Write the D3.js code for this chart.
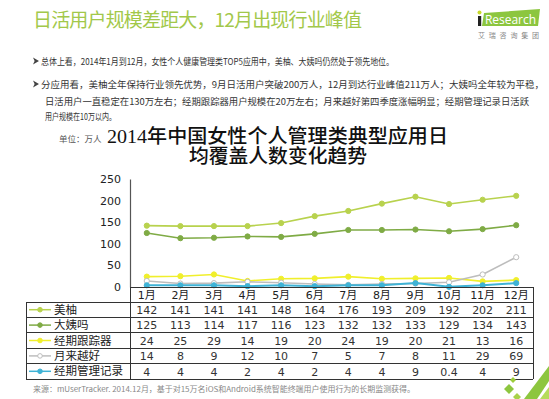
<!DOCTYPE html>
<html>
<head>
<meta charset="utf-8">
<script src="https://cdn.jsdelivr.net/npm/d3@7"></script>
<style>
  body { margin: 0; background: #fff; }
  svg { display: block; }
</style>
</head>
<body>
<div id="chart"></div>
<script>
// chart data
const months = ["1月", "2月", "3月", "4月", "5月", "6月", "7月", "8月", "9月", "10月", "11月", "12月"];
const seriesNames = ["美柚", "大姨吗", "经期跟踪器", "月来越好", "经期管理记录"];
const meiyou = [142, 141, 141, 141, 148, 164, 176, 193, 209, 192, 202, 211];
const dayima = [125, 113, 114, 117, 116, 123, 132, 132, 133, 129, 134, 143];
const tracker = [24, 25, 29, 14, 19, 20, 24, 19, 20, 21, 13, 16];
const yuelai = [14, 8, 9, 12, 10, 7, 5, 7, 8, 11, 29, 69];
const record = [4, 4, 4, 2, 4, 2, 4, 4, 9, 0.4, 4, 9];
const yTicks = [0, 50, 100, 150, 200, 250];

const width = 549, height = 399;
const colors = ["#b8d24e", "#7fab45", "#f0ef2c", "#bdbdbd", "#3fb3d6"];
const allValues = [meiyou, dayima, tracker, yuelai, record];

const numFont = "'DejaVu Sans', Verdana, sans-serif";
const cjkFont = "'Noto Sans CJK SC', sans-serif";

const svg = d3.select("#chart")
  .append("svg")
  .attr("width", width)
  .attr("height", height);

// ---- slide header ----
svg.append("text")
  .attr("x", 33).attr("y", 27)
  .attr("font-family", cjkFont)
  .attr("font-size", 19)
  .attr("fill", "#a2c84a")
  .attr("textLength", 329)
  .text("日活用户规模差距大，12月出现行业峰值");

// iResearch logo
const logo = svg.append("g");
logo.append("circle").attr("cx", 479.5).attr("cy", 12.5).attr("r", 2).attr("fill", "#c8d92a");
logo.append("rect").attr("x", 478).attr("y", 16).attr("width", 3.2).attr("height", 10).attr("fill", "#222");
logo.append("polygon")
  .attr("points", "484,13 540,9 538,26 482,26")
  .attr("fill", "#8cc63f");
logo.append("text")
  .attr("x", 485).attr("y", 24)
  .attr("font-family", "'Open Sans', sans-serif")
  .attr("font-size", 12)
  .attr("fill", "#fff")
  .attr("textLength", 51)
  .text("Research");
logo.append("text")
  .attr("x", 478).attr("y", 38)
  .attr("font-family", cjkFont)
  .attr("font-size", 7)
  .attr("fill", "#888")
  .attr("textLength", 61)
  .text("艾瑞咨询集团");

// bullet text
const bullets = [
  { t: "总体上看，2014年1月到12月，女性个人健康管理类TOP5应用中，美柚、大姨吗仍然处于领先地位。", x: 41, y: 64.5, w: 353, arrow: true },
  { t: "分应用看，美柚全年保持行业领先优势，9月日活用户突破200万人，12月到达行业峰值211万人；大姨吗全年较为平稳，", x: 41, y: 87.5, w: 503, arrow: true },
  { t: "日活用户一直稳定在130万左右；经期跟踪器用户规模在20万左右；月来越好第四季度涨幅明显；经期管理记录日活跃", x: 45, y: 104.5, w: 484, arrow: false },
  { t: "用户规模在10万以内。", x: 45, y: 119.5, w: 71, arrow: false }
];
bullets.forEach(b => {
  if (b.arrow) {
    svg.append("path")
      .attr("d", `M33,${b.y - 7} L39,${b.y - 3.5} L33,${b.y} L34.6,${b.y - 3.5} Z`)
      .attr("fill", "#444");
  }
  svg.append("text")
    .attr("x", b.x).attr("y", b.y)
    .attr("font-family", cjkFont)
    .attr("font-size", 9)
    .attr("fill", "#333")
    .attr("textLength", b.w)
    .attr("lengthAdjust", "spacingAndGlyphs")
    .text(b.t);
});

// ---- chart title ----
svg.append("text")
  .attr("x", 59).attr("y", 142)
  .attr("font-family", cjkFont)
  .attr("font-size", 8.5)
  .attr("fill", "#555")
  .text("单位：万人");

const titleFont = "'Liberation Serif', 'Noto Sans CJK SC', serif";
svg.append("text")
  .attr("x", 107).attr("y", 143)
  .attr("font-family", titleFont)
  .attr("font-weight", 500)
  .attr("font-size", 19.5)
  .attr("fill", "#111")
  .attr("textLength", 341)
  .attr("lengthAdjust", "spacingAndGlyphs")
  .text("2014年中国女性个人管理类典型应用日");
svg.append("text")
  .attr("x", 189).attr("y", 163)
  .attr("font-family", titleFont)
  .attr("font-weight", 500)
  .attr("font-size", 19.5)
  .attr("fill", "#111")
  .attr("textLength", 178)
  .attr("lengthAdjust", "spacingAndGlyphs")
  .text("均覆盖人数变化趋势");

// ---- scales ----
const tableLeft = 26, axisX = 130, tableRight = 533;
const xScale = d3.scaleBand()
  .domain(months)
  .range([axisX, tableRight]);
const yScale = d3.scaleLinear()
  .domain([0, 250])
  .range([287, 179]);
const rowScale = d3.scaleBand()
  .domain(seriesNames)
  .range([302, 379]);
const cx = m => xScale(m) + xScale.bandwidth() / 2;

// y axis
const yAxis = svg.append("g")
  .attr("transform", `translate(${axisX},0)`)
  .call(d3.axisLeft(yScale).tickValues(yTicks).tickSize(0).tickPadding(9));
yAxis.select(".domain").attr("stroke", "#555").attr("stroke-width", 1.2);
yAxis.selectAll("text")
  .attr("font-family", numFont)
  .attr("font-size", 11)
  .attr("fill", "#222");

// ---- lines ----
const line = d3.line()
  .x((d, i) => cx(months[i]))
  .y(d => yScale(d));

seriesNames.forEach((name, k) => {
  const vals = allValues[k];
  svg.append("path")
    .datum(vals)
    .attr("d", line)
    .attr("fill", "none")
    .attr("stroke", colors[k])
    .attr("stroke-width", k === 4 ? 2 : 1.6);
  svg.append("g")
    .selectAll("circle")
    .data(vals)
    .enter()
    .append("circle")
    .attr("cx", (d, i) => cx(months[i]))
    .attr("cy", d => yScale(d))
    .attr("r", 2.6)
    .attr("fill", k === 3 ? "#fff" : colors[k])
    .attr("stroke", colors[k])
    .attr("stroke-width", 1);
});

// ---- data table ----
const table = svg.append("g")
  .attr("stroke", "#333")
  .attr("stroke-width", 1)
  .attr("shape-rendering", "crispEdges");
table.append("line").attr("x1", axisX).attr("x2", tableRight).attr("y1", 287.5).attr("y2", 287.5);
seriesNames.forEach(n => {
  table.append("line")
    .attr("x1", tableLeft).attr("x2", tableRight)
    .attr("y1", rowScale(n)).attr("y2", rowScale(n));
});
table.append("line").attr("x1", tableLeft).attr("x2", tableRight).attr("y1", 379).attr("y2", 379);
table.append("line").attr("x1", tableLeft).attr("x2", tableLeft).attr("y1", 302).attr("y2", 379);
table.append("line").attr("x1", axisX).attr("x2", axisX).attr("y1", 287).attr("y2", 379);
table.append("line").attr("x1", tableRight).attr("x2", tableRight).attr("y1", 287).attr("y2", 379);

// month header
svg.append("g")
  .selectAll("text")
  .data(months)
  .enter()
  .append("text")
  .attr("x", d => cx(d))
  .attr("y", 298.5)
  .attr("text-anchor", "middle")
  .attr("font-family", numFont + ", 'Noto Sans CJK SC'")
  .attr("font-size", 11)
  .attr("fill", "#222")
  .text(d => d);

// rows
seriesNames.forEach((name, k) => {
  const rowMid = rowScale(name) + rowScale.bandwidth() / 2;
  // legend key
  svg.append("line")
    .attr("x1", 29).attr("x2", 51)
    .attr("y1", rowMid).attr("y2", rowMid)
    .attr("stroke", colors[k]).attr("stroke-width", 1.5);
  svg.append("circle")
    .attr("cx", 40).attr("cy", rowMid).attr("r", 2.3)
    .attr("fill", k === 3 ? "#fff" : colors[k])
    .attr("stroke", colors[k]);
  svg.append("text")
    .attr("x", 54).attr("y", rowMid + 4)
    .attr("font-family", cjkFont)
    .attr("font-size", 11.5)
    .attr("fill", "#222")
    .text(name);
  svg.append("g")
    .selectAll("text")
    .data(allValues[k])
    .enter()
    .append("text")
    .attr("x", (d, i) => cx(months[i]))
    .attr("y", rowMid + 4.2)
    .attr("text-anchor", "middle")
    .attr("font-family", numFont)
    .attr("font-size", 11)
    .attr("fill", "#333")
    .text(d => d);
});

// ---- footer ----
svg.append("text")
  .attr("x", 33).attr("y", 392)
  .attr("font-family", cjkFont)
  .attr("font-size", 7.5)
  .attr("fill", "#888")
  .attr("textLength", 382)
  .attr("lengthAdjust", "spacingAndGlyphs")
  .text("来源：mUserTracker. 2014.12月，基于对15万名iOS和Android系统智能终端用户使用行为的长期监测获得。");

// corner decoration
const deco = svg.append("g");
deco.append("polygon").attr("points", "524,399 549,366 549,381 537,399").attr("fill", "#8dc63f");
deco.append("polygon").attr("points", "540,399 549,387 549,399").attr("fill", "#b6dc5a");
deco.append("polygon").attr("points", "513,377 516,380 513,383 510,380").attr("fill", "#9ccc3c");
deco.append("polygon").attr("points", "509,384 514,389 509,394 504,389").attr("fill", "#8dc63f");
deco.append("polygon").attr("points", "517,393 521,397 517,401 513,397").attr("fill", "#a9d24a");
</script>
</body>
</html>
